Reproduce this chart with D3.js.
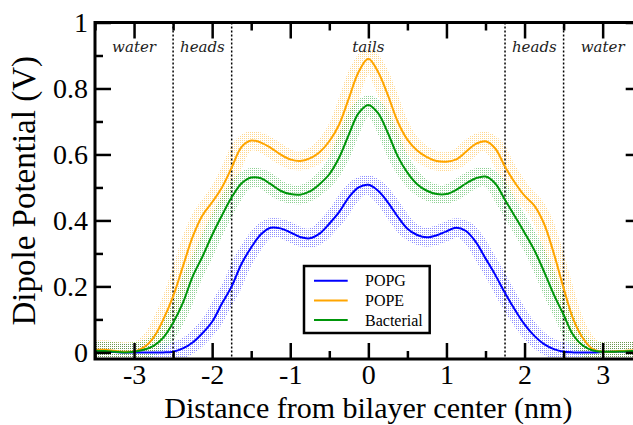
<!DOCTYPE html>
<html>
<head>
<meta charset="utf-8">
<script src="https://cdn.jsdelivr.net/npm/d3@7"></script>
<style>
  body { margin: 0; background: #fff; }
  svg { display: block; }
  .tick text { font-family: "Liberation Serif", "Times New Roman", serif; }
</style>
</head>
<body>
<svg id="chart" width="633" height="425"></svg>
<script>
// distance from bilayer center (nm)
const positions = [-3.5,-3.375,-3.25,-3.125,-3,-2.875,-2.75,-2.625,-2.5,-2.375,-2.25,-2.125,-2,-1.875,-1.75,-1.625,-1.5,-1.375,-1.25,-1.125,-1,-0.875,-0.75,-0.625,-0.5,-0.375,-0.25,-0.125,
  0,0.125,0.25,0.375,0.5,0.625,0.75,0.875,1,1.125,1.25,1.375,1.5,1.625,1.75,1.875,2,2.125,2.25,2.375,2.5,2.625,2.75,2.875,3,3.125,3.25,3.375,3.5];

const popg = [0.003,0.002,0.001,0,0,0,0,0,0.002,0.012,0.03,0.058,0.093,0.148,0.2,0.268,0.318,0.358,0.378,0.376,0.364,0.35,0.346,0.36,0.39,0.425,0.47,0.5,
  0.508,
  0.49,0.455,0.412,0.375,0.356,0.349,0.355,0.367,0.378,0.368,0.335,0.285,0.235,0.18,0.13,0.085,0.05,0.025,0.01,0.002,0,0,0,0.001,0.002,0.003,0.004,0.004];

const pope = [0.008,0.008,0.005,0.002,0.003,0.015,0.045,0.10,0.17,0.26,0.35,0.415,0.455,0.50,0.56,0.622,0.642,0.636,0.62,0.60,0.585,0.58,0.588,0.607,0.64,0.69,0.77,0.85,
  0.89,
  0.85,0.78,0.70,0.645,0.612,0.592,0.58,0.578,0.585,0.608,0.632,0.64,0.618,0.563,0.515,0.475,0.445,0.39,0.30,0.195,0.10,0.042,0.01,0.002,0.003,0.004,0.006,0.006];

const bacterial = [0.005,0.004,0.002,0,0.002,0.008,0.02,0.045,0.09,0.15,0.23,0.29,0.356,0.415,0.47,0.512,0.53,0.528,0.51,0.49,0.48,0.478,0.488,0.51,0.54,0.59,0.66,0.725,
  0.75,
  0.725,0.665,0.595,0.545,0.51,0.49,0.48,0.48,0.493,0.512,0.528,0.533,0.512,0.462,0.413,0.363,0.31,0.245,0.175,0.114,0.052,0.02,0.006,0.002,0.002,0.003,0.004,0.005];

const seriesNames = ["POPG", "POPE", "Bacterial"];
const seriesColors = ["#0000ff", "#ffa500", "#00960a"];

// region boundaries and labels
const boundaries = [-2.5, -1.75, 1.75, 2.5];
const regionNames = ["water", "heads", "tails", "heads", "water"];
const regionCenters = [-3, -2.125, 0, 2.125, 3];

const xTicks = [-3, -2, -1, 0, 1, 2, 3];
const xMinor = [-3.5, -2.5, -1.5, -0.5, 0.5, 1.5, 2.5, 3.5];
const yTicks = [0, 0.2, 0.4, 0.6, 0.8, 1];
const yMinor = [0.1, 0.3, 0.5, 0.7, 0.9];

const serif = "'Liberation Serif', 'Times New Roman', serif";

let pLeft = 95, pRight = 641.7, pTop = 22.5, pBottom = 359;

const svg = d3.select("#chart");

const x = d3.scaleLinear().domain([-3.5, 3.5]).range([pLeft, pRight]);
const y = d3.scaleLinear().domain([-0.02, 1]).range([pBottom, pTop]);

const defs = svg.append("defs");
defs.append("clipPath").attr("id", "plotclip")
  .append("rect")
  .attr("x", pLeft).attr("y", pTop)
  .attr("width", pRight - pLeft).attr("height", pBottom - pTop);

seriesColors.forEach((c, i) => {
  const p = defs.append("pattern")
    .attr("id", "dots" + i)
    .attr("width", 2).attr("height", 2)
    .attr("patternUnits", "userSpaceOnUse");
  p.append("rect").attr("width", 1).attr("height", 1).attr("fill", c);
});

const allSeries = [popg, pope, bacterial];

const line = d3.line()
  .x((d, i) => x(positions[i]))
  .y(d => y(d))
  .curve(d3.curveCatmullRom.alpha(0.5));

const plot = svg.append("g").attr("clip-path", "url(#plotclip)");

// dotted uncertainty bands
allSeries.forEach((s, i) => {
  plot.append("path")
    .attr("d", line(s))
    .attr("fill", "none")
    .attr("stroke", "url(#dots" + i + ")")
    .attr("stroke-width", 19)
    .attr("stroke-linejoin", "round")
    .attr("opacity", 0.45);
});

// region boundaries
plot.selectAll(".boundary")
  .data(boundaries)
  .enter()
  .append("line")
  .attr("x1", d => x(d)).attr("x2", d => x(d))
  .attr("y1", pTop).attr("y2", pBottom)
  .attr("stroke", "#000")
  .attr("stroke-width", 1.5)
  .attr("stroke-dasharray", "2,2");

allSeries.forEach((s, i) => {
  plot.append("path")
    .attr("d", line(s))
    .attr("fill", "none")
    .attr("stroke", seriesColors[i])
    .attr("stroke-width", 2);
});

// region labels
svg.selectAll(".region")
  .data(regionNames)
  .enter()
  .append("text")
  .attr("x", (d, i) => x(regionCenters[i]))
  .attr("y", 51.5)
  .attr("text-anchor", "middle")
  .attr("font-family", "'DejaVu Serif', serif")
  .attr("font-style", "italic")
  .attr("font-size", 15)
  .attr("fill", "#222")
  .text(d => d);

// axes, ticks inward on all four sides
const fmtX = d => String(d);
const fmtY = d3.format(".1~f");

function styleAxis(g) {
  g.attr("font-family", serif);
  g.select(".domain").remove();
  g.selectAll(".tick line").attr("stroke", "#000").attr("stroke-width", 2.5);
  g.selectAll(".tick text").attr("font-size", 28).attr("fill", "#000");
}

svg.append("g").attr("transform", `translate(0,${pBottom})`)
  .call(d3.axisBottom(x).tickValues(xTicks).tickSize(-16).tickPadding(5).tickFormat(fmtX))
  .call(styleAxis);
svg.append("g").attr("transform", `translate(0,${pBottom})`)
  .call(d3.axisBottom(x).tickValues(xMinor).tickSize(-8).tickFormat(""))
  .call(styleAxis);
svg.append("g").attr("transform", `translate(0,${pTop})`)
  .call(d3.axisTop(x).tickValues(xTicks).tickSize(-16).tickFormat(""))
  .call(styleAxis);
svg.append("g").attr("transform", `translate(0,${pTop})`)
  .call(d3.axisTop(x).tickValues(xMinor).tickSize(-8).tickFormat(""))
  .call(styleAxis);

svg.append("g").attr("transform", `translate(${pLeft},0)`)
  .call(d3.axisLeft(y).tickValues(yTicks).tickSize(-16).tickPadding(7).tickFormat(fmtY))
  .call(styleAxis);
svg.append("g").attr("transform", `translate(${pLeft},0)`)
  .call(d3.axisLeft(y).tickValues(yMinor).tickSize(-8).tickFormat(""))
  .call(styleAxis);
svg.append("g").attr("transform", `translate(${pRight},0)`)
  .call(d3.axisRight(y).tickValues(yTicks).tickSize(-16).tickFormat(""))
  .call(styleAxis);
svg.append("g").attr("transform", `translate(${pRight},0)`)
  .call(d3.axisRight(y).tickValues(yMinor).tickSize(-8).tickFormat(""))
  .call(styleAxis);

// frame
svg.append("rect")
  .attr("x", pLeft).attr("y", pTop)
  .attr("width", pRight - pLeft).attr("height", pBottom - pTop)
  .attr("fill", "none")
  .attr("stroke", "#000")
  .attr("stroke-width", 3);

// axis titles
svg.append("text")
  .attr("x", x(0))
  .attr("y", 417.5)
  .attr("text-anchor", "middle")
  .attr("font-family", serif)
  .attr("font-size", 30)
  .text("Distance from bilayer center (nm)");

svg.append("text")
  .attr("transform", `translate(35,${(pTop + pBottom) / 2}) rotate(-90)`)
  .attr("text-anchor", "middle")
  .attr("font-family", serif)
  .attr("font-size", 33)
  .text("Dipole Potential (V)");

// legend
const legend = svg.append("g").attr("transform", "translate(304,266)");
legend.append("rect")
  .attr("width", 125.7).attr("height", 67)
  .attr("fill", "#fff")
  .attr("stroke", "#000")
  .attr("stroke-width", 2.5);

const rows = legend.selectAll(".row")
  .data(seriesNames)
  .enter()
  .append("g")
  .attr("transform", (d, i) => `translate(0,${14.7 + i * 19.7})`);
rows.append("line")
  .attr("x1", 10).attr("x2", 43.7)
  .attr("stroke", (d, i) => seriesColors[i])
  .attr("stroke-width", 2);
rows.append("text")
  .attr("x", 61)
  .attr("y", 5.5)
  .attr("font-family", serif)
  .attr("font-size", 16)
  .text(d => d);
</script>
</body>
</html>
